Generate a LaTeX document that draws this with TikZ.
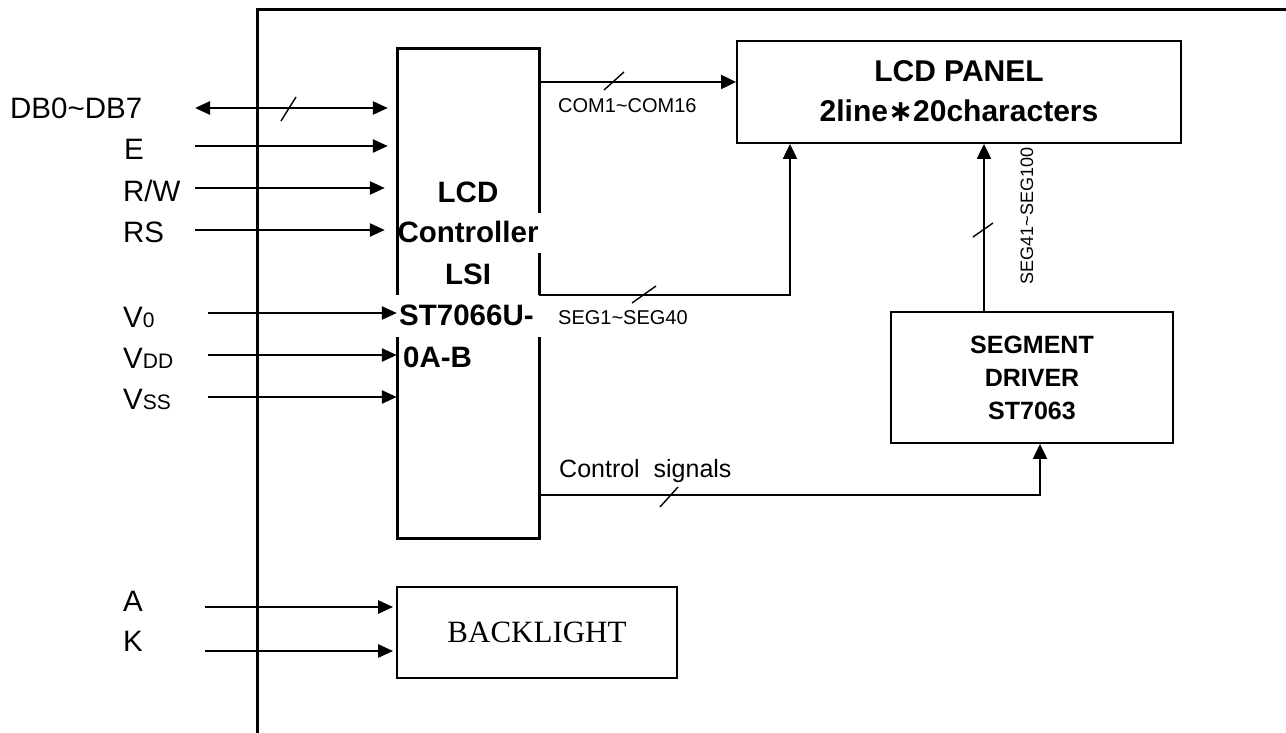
\documentclass[tikz,border=0pt]{standalone}
\usepackage{fontspec}
\setmainfont{Liberation Sans}
\newfontfamily\serifbl{Liberation Serif}
\newfontfamily\dejavu{DejaVu Sans}
\usetikzlibrary{arrows.meta,calc}
\newcommand\setfs[1]{\fontsize{#1}{#1}\selectfont}
\begin{document}
\begin{tikzpicture}[x=1pt,y=-1pt,
  inarrow/.style={line width=2.6pt,-{Triangle[length=15pt,width=13pt]}},
  inboth/.style={line width=2.6pt,{Triangle[length=15pt,width=13pt]}-{Triangle[length=15pt,width=13pt]}},
  sigarrow/.style={line width=2pt,-{Triangle[length=15pt,width=14pt]}},
  tickmark/.style={line width=1.4pt},
  lbl/.style={anchor=base west,inner sep=0pt,font=\setfs{29.5}},
  boxthin/.style={draw,line width=1.8pt,inner sep=0pt},
  ctrltxt/.style={anchor=base,inner sep=0pt,font=\bfseries\setfs{29.5}},
  paneltxt/.style={anchor=base,inner sep=0pt,font=\bfseries\setfs{30}},
  segtxt/.style={anchor=base,inner sep=0pt,font=\bfseries\setfs{25}},
  smalltxt/.style={anchor=base west,inner sep=0pt,font=\setfs{20}}
]
\useasboundingbox (0,0) rectangle (1286,733);

% outer frame
\draw[line width=3pt] (257,733) -- (257,10) -- (1286,10);

% controller block (border drawn with gaps around its text)
\node[minimum width=142pt,minimum height=489pt,inner sep=0pt] (ctrl) at (468,293.5) {};
\draw[line width=3pt] (397,295) -- (397,49) -- (539,49) -- (539,213);
\draw[line width=3pt] (539,253) -- (539,295);
\draw[line width=3pt] (397,337) -- (397,538) -- (539,538) -- (539,337);
\node[ctrltxt] (t1) at (468,203) {LCD};
\node[ctrltxt] (t2) at (468,242) {Controller};
\node[ctrltxt] (t3) at (468,284) {LSI};
\node[ctrltxt,anchor=base west] (t4) at (399,325) {ST7066U-};
\node[ctrltxt,anchor=base west] (t5) at (403,367) {0A-B};

% LCD panel
\node[boxthin,minimum width=444pt,minimum height=102pt] (lcd) at (959,92) {};
\node[paneltxt] (p1) at (959,82) {LCD PANEL};
\node[paneltxt] (p2) at (959,122) {2line{\dejavu\bfseries\setfs{30}∗}20characters};

% segment driver
\node[boxthin,minimum width=282pt,minimum height=131pt] (segdrv) at (1032,377.5) {};
\node[segtxt] (s1) at (1032,353) {SEGMENT};
\node[segtxt] (s2) at (1032,386) {DRIVER};
\node[segtxt] (s3) at (1032,419) {ST7063};

% backlight
\node[boxthin,minimum width=280pt,minimum height=91pt] (bl) at (537,632.5) {};
\node[anchor=base,inner sep=0pt,font=\serifbl\setfs{31}] (blt) at (537,642) {BACKLIGHT};

% input labels
\node[lbl] (lDB) at (10,119) {DB0\textasciitilde DB7};
\node[lbl] (lE) at (124,160) {E};
\node[lbl] (lRW) at (123,202) {R/W};
\node[lbl] (lRS) at (123,243) {RS};
\node[lbl] (lV0) at (123,327) {V{\setfs{21}0}};
\node[lbl] (lVDD) at (123,368) {V{\setfs{21}DD}};
\node[lbl] (lVSS) at (123,409) {V{\setfs{21}SS}};
\node[lbl] (lA) at (123,611) {A};
\node[lbl] (lK) at (123,651) {K};

% input arrow start points
\coordinate (iDB) at (195,108);
\coordinate (iE) at (195,146);
\coordinate (iRW) at (195,188);
\coordinate (iRS) at (195,230);
\coordinate (iV0) at (208,313);
\coordinate (iVDD) at (208,355);
\coordinate (iVSS) at (208,397);
\coordinate (iA) at (205,607);
\coordinate (iK) at (205,651);

\draw[inboth,shorten >=9pt] (iDB) -- (iDB -| ctrl.west);
\draw[inarrow,shorten >=9pt] (iE) -- (iE -| ctrl.west);
\draw[inarrow,shorten >=12pt] (iRW) -- (iRW -| ctrl.west);
\draw[inarrow,shorten >=12pt] (iRS) -- (iRS -| ctrl.west);
\draw[inarrow] (iV0) -- (iV0 -| ctrl.west);
\draw[inarrow] (iVDD) -- (iVDD -| ctrl.west);
\draw[inarrow] (iVSS) -- (iVSS -| ctrl.west);
\draw[inarrow,shorten >=3pt] (iA) -- (iA -| bl.west);
\draw[inarrow,shorten >=3pt] (iK) -- (iK -| bl.west);
\draw[tickmark] (281,121) -- (296,97);

% COM lines
\coordinate (comy) at (0,82);
\draw[sigarrow] (comy -| ctrl.east) -- (comy -| lcd.west);
\draw[tickmark] (604,90) -- (624,72);
\node[smalltxt] (lcom) at (558,113) {COM1\textasciitilde COM16};

% SEG1~SEG40
\coordinate (segbend) at (790,295);
\draw[sigarrow] (segbend -| ctrl.east) -- (segbend) -- (segbend |- lcd.south);
\draw[tickmark] (632,303) -- (656,286);
\node[smalltxt] (lseg1) at (558,324) {SEG1\textasciitilde SEG40};

% SEG41~SEG100
\coordinate (s41) at (984,0);
\draw[sigarrow] (s41 |- segdrv.north) -- (s41 |- lcd.south);
\draw[tickmark] (973,237) -- (993,223);
\node[inner sep=0pt,rotate=90,font=\setfs{18}] (lseg41) at (1027,216) {SEG41\textasciitilde SEG100};

% control signals
\coordinate (cbend) at (1040,495);
\draw[sigarrow] (cbend -| ctrl.east) -- (cbend) -- (cbend |- segdrv.south);
\draw[tickmark] (660,507) -- (678,487);
\node[anchor=base west,inner sep=0pt,font=\setfs{25}] (lctl) at (559,477) {Control\ \ signals};
\end{tikzpicture}
\end{document}
